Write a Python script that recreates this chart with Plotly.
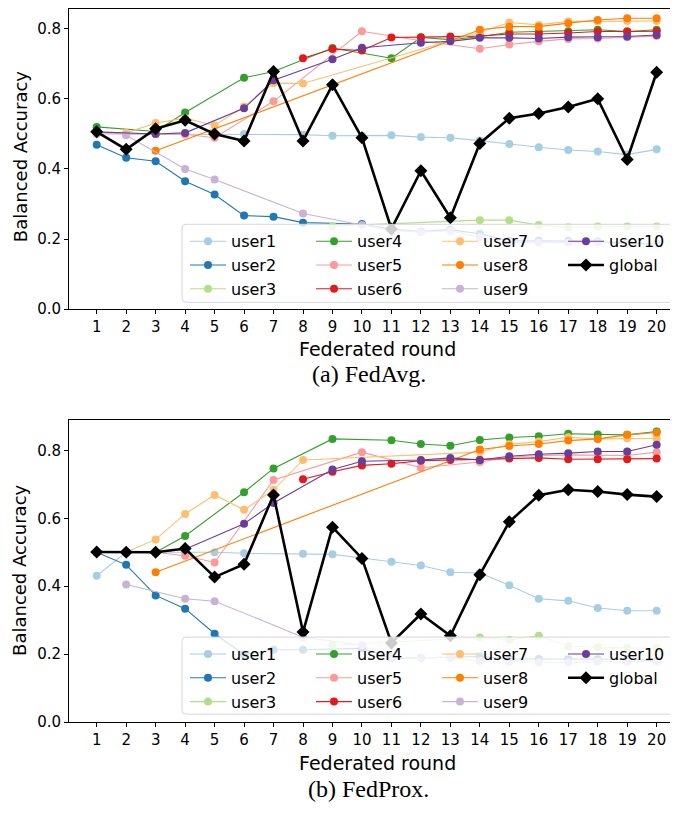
import plotly.graph_objects as go

rounds = list(range(1, 21))
user_names = ["user1", "user2", "user3", "user4", "user5", "user6", "user7", "user8", "user9", "user10"]
user_colors = ["#a6cee3", "#1f78b4", "#b2df8a", "#33a02c", "#fb9a99",
               "#e31a1c", "#fdbf6f", "#ff7f00", "#cab2d6", "#6a3d9a"]
# legend column (0..3), like matplotlib ncol=4 (column-major filling)
legend_col = {"user1": 0, "user2": 0, "user3": 0,
              "user4": 1, "user5": 1, "user6": 1,
              "user7": 2, "user8": 2, "user9": 2,
              "user10": 3, "global": 3}

N = None
# ---------------- FedAvg ----------------
avg_user1 = [0.50, 0.50, 0.50, 0.50, 0.50, 0.50, N, 0.498, 0.495, 0.495, 0.496, 0.491, 0.489, 0.481, 0.471, 0.462, 0.454, 0.450, 0.441, 0.456]
avg_user2 = [0.469, 0.432, 0.422, 0.365, 0.327, 0.267, 0.264, 0.247, N, 0.243, 0.229, 0.222, 0.227, 0.215, 0.195, 0.195, 0.195, 0.193, 0.188, 0.186]
avg_user3 = [N, N, N, N, N, N, N, N, 0.237, N, N, N, N, 0.254, 0.254, 0.240, 0.234, 0.236, 0.236, 0.236]
avg_user4 = [0.520, N, 0.507, 0.561, N, 0.660, 0.678, N, 0.745, N, 0.716, 0.775, 0.769, 0.777, 0.790, 0.792, 0.793, 0.797, 0.792, 0.797]
avg_user5 = [0.505, 0.50, 0.50, 0.499, 0.489, N, 0.593, N, N, 0.793, N, 0.766, N, 0.743, 0.755, 0.764, 0.771, 0.772, 0.776, 0.779]
avg_user6 = [N, N, N, N, N, N, N, 0.716, 0.742, 0.738, 0.775, 0.776, 0.778, 0.779, 0.785, 0.785, 0.788, 0.792, 0.792, 0.793]
avg_user7 = [0.503, 0.503, 0.531, 0.545, 0.524, 0.578, 0.645, 0.644, N, N, N, N, N, 0.790, 0.818, 0.811, 0.821, 0.821, 0.822, 0.822]
avg_user8 = [N, N, 0.452, N, N, N, N, N, N, N, N, N, N, 0.797, 0.806, 0.806, 0.816, 0.825, 0.830, 0.830]
avg_user9 = [N, 0.496, N, 0.400, 0.370, N, N, 0.273, N, 0.240, 0.225, 0.220, 0.224, 0.205, 0.190, 0.190, 0.190, 0.190, 0.186, 0.184]
avg_user10 = [0.506, N, 0.500, 0.503, N, 0.573, 0.653, N, 0.713, 0.746, N, 0.760, 0.764, 0.774, 0.774, 0.772, 0.776, 0.776, 0.778, 0.782]
avg_global = [0.506, 0.456, 0.515, 0.539, 0.500, 0.480, 0.678, 0.480, 0.640, 0.489, 0.229, 0.395, 0.261, 0.473, 0.545, 0.558, 0.577, 0.600, 0.427, 0.676]

# ---------------- FedProx ----------------
prox_user1 = [0.431, 0.50, 0.50, 0.50, 0.50, 0.497, N, 0.496, 0.494, 0.483, 0.472, 0.461, 0.441, 0.439, 0.403, 0.363, 0.357, 0.336, 0.328, 0.328]
prox_user2 = [0.50, 0.463, 0.373, 0.334, 0.260, 0.199, 0.213, 0.213, N, 0.217, 0.189, 0.189, 0.190, 0.193, 0.186, 0.186, 0.185, 0.185, 0.185, 0.180]
prox_user3 = [N, N, N, N, N, N, N, N, 0.226, N, N, N, N, 0.249, 0.242, 0.254, 0.223, 0.220, 0.218, 0.218]
prox_user4 = [0.50, 0.50, 0.50, 0.548, N, 0.677, 0.747, N, 0.834, N, 0.830, 0.819, 0.814, 0.831, 0.838, 0.842, 0.849, 0.847, 0.846, 0.856]
prox_user5 = [0.50, 0.50, 0.50, 0.490, 0.470, N, 0.713, N, N, 0.795, N, 0.749, N, 0.766, 0.780, 0.785, 0.787, 0.787, 0.785, 0.795]
prox_user6 = [N, N, N, N, N, N, N, 0.715, 0.737, 0.756, 0.761, 0.770, 0.772, 0.772, 0.776, 0.778, 0.774, 0.774, 0.774, 0.776]
prox_user7 = [0.50, 0.50, 0.538, 0.613, 0.669, 0.625, 0.684, 0.772, N, N, N, N, N, 0.795, 0.818, 0.826, 0.839, 0.834, 0.835, 0.835]
prox_user8 = [N, N, 0.441, N, N, N, N, N, N, N, N, N, N, 0.803, 0.813, 0.819, 0.829, 0.834, 0.846, 0.853]
prox_user9 = [N, 0.405, N, 0.363, 0.356, N, N, 0.250, N, 0.226, 0.190, 0.190, 0.190, 0.180, 0.178, 0.175, 0.175, 0.178, 0.178, 0.178]
prox_user10 = [0.50, 0.50, 0.50, 0.509, N, 0.584, 0.645, N, 0.744, 0.768, N, 0.772, 0.778, 0.772, 0.783, 0.789, 0.792, 0.797, 0.797, 0.817]
prox_global = [0.501, 0.50, 0.50, 0.511, 0.427, 0.465, 0.669, 0.265, 0.574, 0.482, 0.233, 0.318, 0.254, 0.434, 0.590, 0.668, 0.684, 0.679, 0.670, 0.664]

avg_users = [avg_user1, avg_user2, avg_user3, avg_user4, avg_user5, avg_user6, avg_user7, avg_user8, avg_user9, avg_user10]
prox_users = [prox_user1, prox_user2, prox_user3, prox_user4, prox_user5, prox_user6, prox_user7, prox_user8, prox_user9, prox_user10]

FONT = "DejaVu Sans"
PAGE_OFF = 8            # default body margin of the html page
W, H = 670, 805         # figure size so that it fits the 678x813 window


def fx(p):  # page pixel x -> paper fraction
    return (p - PAGE_OFF) / W


def fy(p):  # page pixel y -> paper fraction
    return 1 - (p - PAGE_OFF) / H


fig = go.Figure()


def legend_id(panel, col):
    k = panel * 4 + col + 1
    return "legend" if k == 1 else "legend%d" % k


def add_panel(users, glob, xa, ya, panel):
    for name, color, vals in zip(user_names, user_colors, users):
        fig.add_trace(go.Scatter(
            x=rounds, y=vals, name=name, mode="lines+markers", connectgaps=True,
            line=dict(color=color, width=1.1),
            marker=dict(color=color, size=8, symbol="circle"),
            xaxis=xa, yaxis=ya, legend=legend_id(panel, legend_col[name])))
    fig.add_trace(go.Scatter(
        x=rounds, y=glob, name="global", mode="lines+markers", connectgaps=True,
        line=dict(color="black", width=2.6),
        marker=dict(color="black", size=10, symbol="diamond"),
        xaxis=xa, yaxis=ya, legend=legend_id(panel, legend_col["global"])))


add_panel(avg_users, avg_global, "x", "y", 0)
add_panel(prox_users, prox_global, "x2", "y2", 1)

xdom = [fx(69), fx(677)]
top_dom = [fy(312), min(1.0, fy(5))]
bot_dom = [fy(730), fy(424)]
# the top frame cannot go above the page margin; keep the same data scale
top_range_max = (312 - max(5, PAGE_OFF)) / 355

axis_common = dict(showline=True, linecolor="black", linewidth=1, mirror=True,
                   ticks="outside", ticklen=4, tickcolor="black", tickwidth=1,
                   showgrid=False, zeroline=False,
                   tickfont=dict(family=FONT, size=15, color="black"))

xcommon = dict(axis_common, range=[0.06, 20.69], tickmode="array",
               tickvals=rounds, ticktext=[str(r) for r in rounds], domain=xdom)
ycommon = dict(axis_common, tickmode="array", tickvals=[0, 0.2, 0.4, 0.6, 0.8],
               ticktext=["0.0", "0.2", "0.4", "0.6", "0.8"])

layout_kw = dict(
    width=W, height=H, autosize=False,
    margin=dict(l=0, r=0, t=0, b=0),
    paper_bgcolor="white", plot_bgcolor="white",
    xaxis=dict(xcommon, anchor="y"),
    yaxis=dict(ycommon, domain=top_dom, range=[0, top_range_max], anchor="x"),
    xaxis2=dict(xcommon, anchor="y2"),
    yaxis2=dict(ycommon, domain=bot_dom, range=[0, 306 / 343.75], anchor="x2"),
    showlegend=True,
)

col_left = [185, 311, 437, 563]
box_top = [226, 644]
box_bottom = [305, 722]
for panel in range(2):
    for col in range(4):
        layout_kw[legend_id(panel, col)] = dict(
            orientation="v", xanchor="left", yanchor="top",
            x=fx(col_left[col]), y=fy(box_top[panel]),
            bgcolor="rgba(0,0,0,0)", borderwidth=0, itemwidth=36,
            font=dict(family=FONT, size=16, color="black"),
            traceorder="normal", tracegroupgap=0)
fig.update_layout(**layout_kw)


def rounded_box(x0, y0, x1, y1, r=4):
    return ("M {a},{b} L {c},{b} Q {d},{b} {d},{e} L {d},{f} Q {d},{g} {c},{g} "
            "L {a},{g} Q {h},{g} {h},{f} L {h},{e} Q {h},{b} {a},{b} Z").format(
        a=fx(x0 + r), b=fy(y0), c=fx(x1 - r), d=fx(x1), e=fy(y0 + r),
        f=fy(y1 - r), g=fy(y1), h=fx(x0))


shapes = []
for panel in range(2):
    shapes.append(dict(type="path", xref="paper", yref="paper", layer="above",
                       path=rounded_box(182, box_top[panel], 676, box_bottom[panel]),
                       fillcolor="rgba(255,255,255,0.8)",
                       line=dict(color="#d6d6d6", width=1)))
fig.update_layout(shapes=shapes)

annotations = [
    dict(text="Balanced Accuracy", x=fx(20), y=fy(158), textangle=-90,
         font=dict(family=FONT, size=18)),
    dict(text="Balanced Accuracy", x=fx(20), y=fy(577), textangle=-90,
         font=dict(family=FONT, size=18)),
    dict(text="Federated round", x=fx(377), y=fy(352),
         font=dict(family=FONT, size=19)),
    dict(text="Federated round", x=fx(377), y=fy(771),
         font=dict(family=FONT, size=19)),
    dict(text="(a) FedAvg.", x=fx(369), y=fy(378),
         font=dict(family="Liberation Serif", size=24)),
    dict(text="(b) FedProx.", x=fx(369), y=fy(798),
         font=dict(family="Liberation Serif", size=24)),
]
for a in annotations:
    a.update(xref="paper", yref="paper", showarrow=False,
             xanchor="center", yanchor="middle")
    a["font"]["color"] = "black"
fig.update_layout(annotations=annotations)

fig.write_html("out.html")
